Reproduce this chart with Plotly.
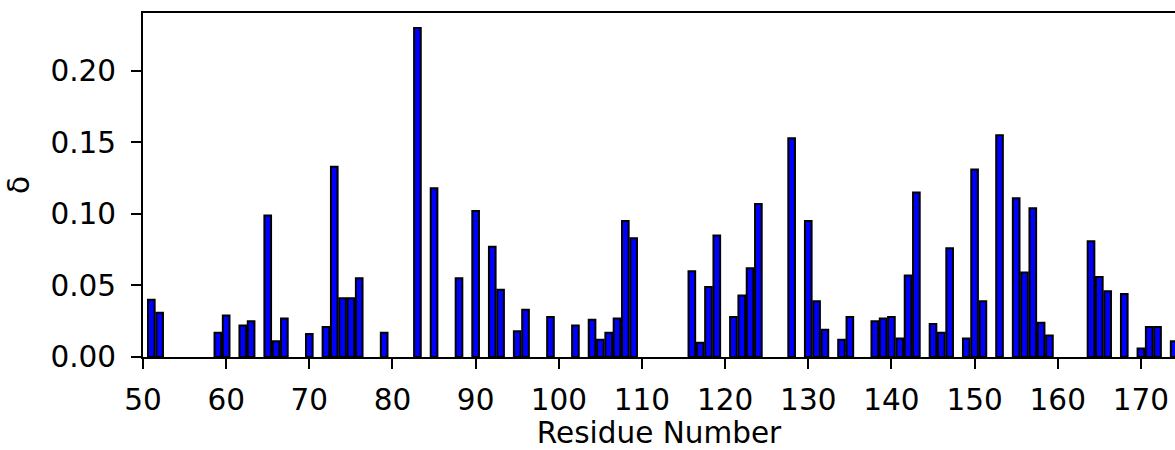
import plotly.graph_objects as go

# Residue numbers and per-residue delta values
residues = [51, 52, 59, 60, 62, 63, 65, 66, 67, 70, 72, 73, 74, 75, 76, 79,
            83, 85, 88, 90, 92, 93, 95, 96, 99, 102, 104, 105, 106, 107, 108, 109,
            116, 117, 118, 119, 121, 122, 123, 124, 128, 130, 131, 132, 134, 135,
            138, 139, 140, 141, 142, 143, 145, 146, 147, 149, 150, 151, 153,
            155, 156, 157, 158, 159, 164, 165, 166, 168, 170, 171, 172, 174]
delta = [0.040, 0.031, 0.017, 0.029, 0.022, 0.025, 0.099, 0.011, 0.027, 0.016,
         0.021, 0.133, 0.041, 0.041, 0.055, 0.017, 0.230, 0.118, 0.055, 0.102,
         0.077, 0.047, 0.018, 0.033, 0.028, 0.022, 0.026, 0.012, 0.017, 0.027,
         0.095, 0.083, 0.060, 0.010, 0.049, 0.085, 0.028, 0.043, 0.062, 0.107,
         0.153, 0.095, 0.039, 0.019, 0.012, 0.028, 0.025, 0.027, 0.028, 0.013,
         0.057, 0.115, 0.023, 0.017, 0.076, 0.013, 0.131, 0.039, 0.155, 0.111,
         0.059, 0.104, 0.024, 0.015, 0.081, 0.056, 0.046, 0.044, 0.006, 0.021,
         0.021, 0.011]

x_ticks = list(range(50, 171, 10))
y_ticks = [0.00, 0.05, 0.10, 0.15, 0.20]

FONT = "DejaVu Sans"
FS = 29.5

fig = go.Figure(
    go.Bar(
        x=residues,
        y=delta,
        width=0.8,
        marker=dict(color="#0000ff", line=dict(color="black", width=2)),
    )
)

fig.update_layout(
    width=1175,
    height=450,
    margin=dict(l=143, r=0, t=13, b=93),
    plot_bgcolor="white",
    paper_bgcolor="white",
    showlegend=False,
    font=dict(family=FONT, size=FS, color="black"),
)

fig.update_xaxes(
    range=[50, 174.1],
    tickvals=x_ticks,
    ticks="outside",
    ticklen=10,
    tickwidth=2,
    tickcolor="black",
    ticklabelstandoff=6,
    showline=True,
    linecolor="black",
    linewidth=2,
    mirror=True,
    showgrid=False,
    zeroline=False,
    tickfont=dict(family=FONT, size=FS, color="black"),
    title=dict(text="Residue Number", font=dict(family=FONT, size=FS, color="black"), standoff=8),
)

fig.update_yaxes(
    range=[0, 0.2405],
    tickvals=y_ticks,
    tickformat=".2f",
    ticks="outside",
    ticklen=10,
    tickwidth=2,
    tickcolor="black",
    ticklabelstandoff=9,
    showline=True,
    linecolor="black",
    linewidth=2,
    showgrid=False,
    zeroline=False,
    tickfont=dict(family=FONT, size=FS, color="black"),
    title=dict(text="δ", font=dict(family=FONT, size=FS, color="black"), standoff=12),
)

fig.write_html("out.html")
